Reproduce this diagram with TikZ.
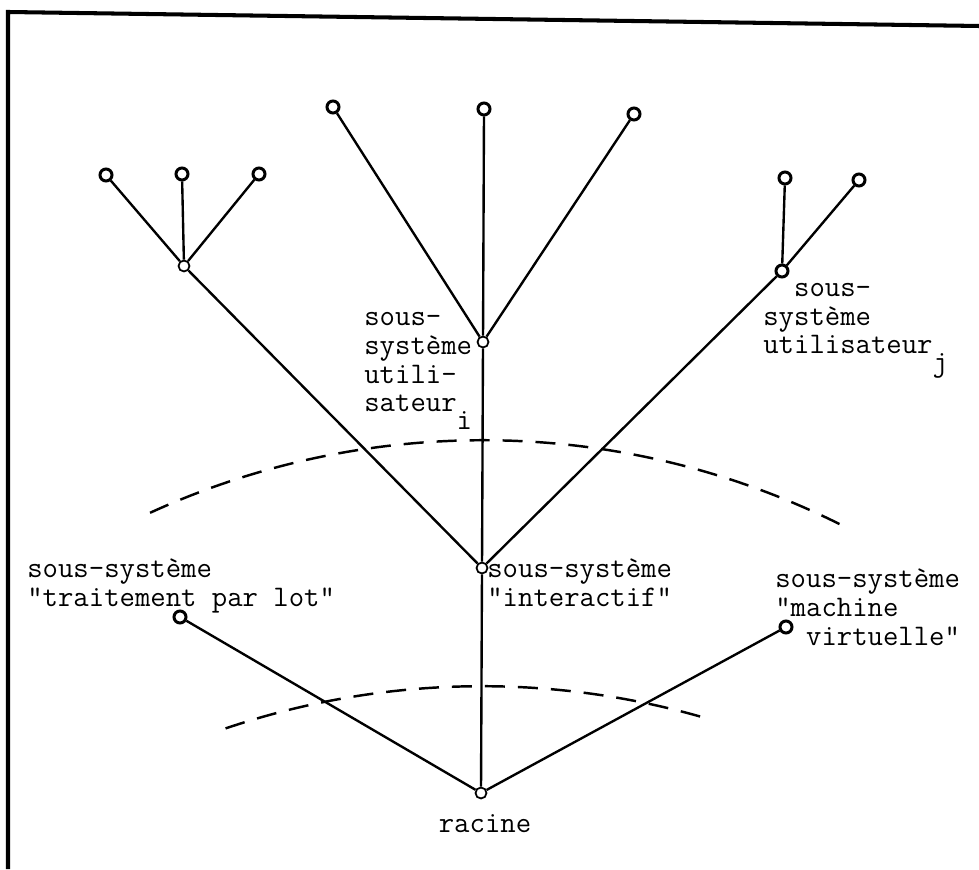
\documentclass[tikz,border=0pt]{standalone}
\usepackage{fontspec}
\usepackage{tikz}
\usetikzlibrary{positioning}
\newcommand{\lowidx}[1]{\raisebox{-10pt}{#1}}
\tikzset{
  vtx/.style={circle,draw,fill=white,line width=1pt,inner sep=0pt,minimum size=2.2mm},
  leaf/.style={vtx,line width=1.7pt,minimum size=2.4mm},
  branch/.style={line width=1.35pt},
  sepline/.style={line width=1.4pt,dash pattern=on 4mm off 2.6mm},
  tlab/.style={font=\ttfamily\fontsize{17pt}{16.5pt}\selectfont,align=left,inner sep=0pt},
}

\begin{document}
\begin{tikzpicture}[x=0.02cm,y=0.02cm]
  \useasboundingbox (0,0) rectangle (979,869);
  % frame: only the top and left edges
  \draw[line width=2.3pt] (8,0) -- (8,857) -- (979,843);

  % the two separating arcs
  \coordinate (cu) at (483,-371);
  \coordinate (cl) at (482,-617);
  \draw[sepline] ([shift={(114.6:16cm)}]cu) arc[start angle=114.6,end angle=63.5,radius=16cm];
  \draw[sepline] ([shift={(108.7:16cm)}]cl) arc[start angle=108.7,end angle=73.3,radius=16cm];

  % vertices
  \node[vtx]  (root)  at (481,76) {};
  \node[leaf] (batch) at (180,252) {};
  \node[vtx]  (inter) at (482,301) {};
  \node[leaf] (vm)    at (786,242) {};
  \node[vtx]  (usa)   at (184,603) {};
  \node[vtx]  (usi)   at (483,527) {};
  \node[leaf] (usj)   at (782,598) {};
  \node[leaf] (a1) at (106,694) {};
  \node[leaf] (a2) at (182,695) {};
  \node[leaf] (a3) at (259,695) {};
  \node[leaf] (i1) at (333,762) {};
  \node[leaf] (i2) at (484,760) {};
  \node[leaf] (i3) at (634,755) {};
  \node[leaf] (j1) at (785,691) {};
  \node[leaf] (j2) at (859,689) {};

  % edges
  \draw[branch] (root) -- (batch) (root) -- (inter) (root) -- (vm);
  \draw[branch] (inter) -- (usa) (inter) -- (usi) (inter) -- (usj);
  \foreach \l in {a1,a2,a3} \draw[branch] (usa) -- (\l);
  \foreach \l in {i1,i2,i3} \draw[branch] (usi) -- (\l);
  \foreach \l in {j1,j2} \draw[branch] (usj) -- (\l);

  % labels (base = baseline of the last line)
  \node[tlab,anchor=base] (l-root) at (485,37) {racine};
  \node[tlab,anchor=base west] (l-batch) at (27,263) {sous-système\\"traitement par lot"};
  \node[tlab,anchor=base west] (l-inter) at (487,263) {sous-système\\"interactif"};
  \node[tlab,anchor=base west] (l-vm) at (775,224) {sous-système\\"machine\\\hphantom{xx}virtuelle"};
  \node[tlab,anchor=base west] (l-usi) at (364,457) {sous-\\système\\utili-\\sateur\lowidx{i}};
  \node[tlab,anchor=base west] (l-usj) at (763,515) {\hphantom{xx}sous-\\système\\utilisateur\lowidx{j}};
\end{tikzpicture}
\end{document}
